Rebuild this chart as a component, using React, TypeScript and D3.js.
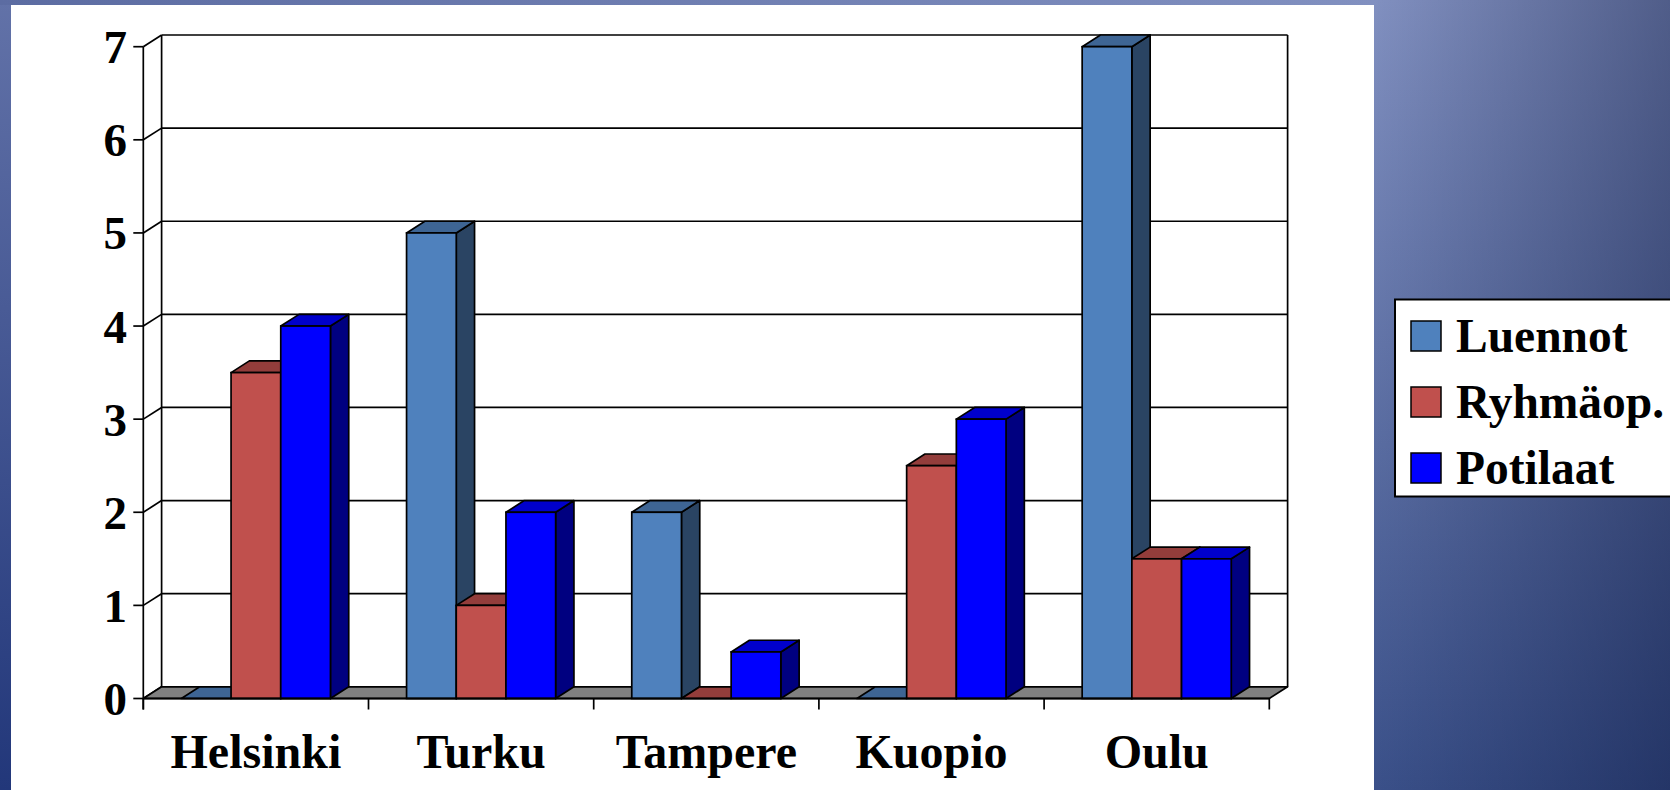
import React from "react";
import * as d3 from "d3";

const categories = ["Helsinki", "Turku", "Tampere", "Kuopio", "Oulu"];
const seriesNames = ["Luennot", "Ryhmäop.", "Potilaat"];
const luennot = [0, 5, 2, 0, 7];
const ryhmaop = [3.5, 1, 0, 2.5, 1.5];
const potilaat = [4, 2, 0.5, 3, 1.5];
const yTicks = [0, 1, 2, 3, 4, 5, 6, 7];

const seriesValues = [luennot, ryhmaop, potilaat];
const frontColors = ["#4f81bd", "#c0504d", "#0000ff"];
const topColors = ["#3e6594", "#933d3b", "#0000cc"];
const sideColors = ["#2a4463", "#7a2f2d", "#000080"];

const W = 1670;
const H = 790;
const X0 = 143.3;
const X1 = 1269.3;
const Y0 = 698.5;
const Y7 = 46.7;
const DX = 18.3;
const DY = -11.7;
const FONT = "'Times New Roman', 'Liberation Serif', serif";

export default function App() {
  React.useEffect(() => {
    document.body.style.margin = "0";
  }, []);

  const x0 = d3.scaleBand<string>().domain(categories).range([X0, X1]).paddingInner(0).paddingOuter(0);
  const x1 = d3
    .scaleBand<string>()
    .domain(seriesNames)
    .range([0, x0.bandwidth()])
    .paddingInner(0)
    .paddingOuter(0.766);
  const y = d3.scaleLinear().domain([0, 7]).range([Y0, Y7]);

  const sw = 1.7;
  const pts = (a: number[][]) => a.map((p) => p.join(",")).join(" ");

  const bars: React.ReactNode[] = [];
  categories.forEach((c, ci) => {
    seriesNames.forEach((s, si) => {
      const v = seriesValues[si][ci];
      const xl = (x0(c) as number) + (x1(s) as number);
      const xr = xl + x1.bandwidth();
      const yt = y(v);
      const yb = y(0);
      bars.push(
        <g key={c + s}>
          {v > 0 && (
            <polygon
              points={pts([[xr, yt], [xr + DX, yt + DY], [xr + DX, yb + DY], [xr, yb]])}
              fill={sideColors[si]}
              stroke="#000"
              strokeWidth={sw}
              strokeLinejoin="round"
            />
          )}
          <polygon
            points={pts([[xl, yt], [xl + DX, yt + DY], [xr + DX, yt + DY], [xr, yt]])}
            fill={topColors[si]}
            stroke="#000"
            strokeWidth={sw}
            strokeLinejoin="round"
          />
          {v > 0 && (
            <rect x={xl} y={yt} width={xr - xl} height={yb - yt} fill={frontColors[si]} stroke="#000" strokeWidth={sw} />
          )}
        </g>
      );
    });
  });

  return (
    <svg width={W} height={H} style={{ position: "absolute", left: 0, top: 0, display: "block" }}>
      <defs>
        <linearGradient id="bgV" x1="0" y1="0" x2="0" y2="1">
          <stop offset="0" stopColor="#6272a8" />
          <stop offset="1" stopColor="#22377a" />
        </linearGradient>
        <linearGradient id="rV" x1="0" y1="0" x2="0" y2="1">
          <stop offset="0" stopColor="#8190c0" />
          <stop offset="1" stopColor="#3a5089" />
        </linearGradient>
        <linearGradient id="rH" x1="0" y1="0" x2="1" y2="0">
          <stop offset="0" stopColor="#000a30" stopOpacity="0" />
          <stop offset="1" stopColor="#000a30" stopOpacity="0.38" />
        </linearGradient>
        <linearGradient id="topH" x1="0" y1="0" x2="1" y2="0">
          <stop offset="0" stopColor="#5c6ca2" />
          <stop offset="1" stopColor="#8190c0" />
        </linearGradient>
      </defs>
      <rect x={0} y={0} width={W} height={H} fill="url(#bgV)" />
      <rect x={0} y={0} width={1374} height={5} fill="url(#topH)" />
      <rect x={1374} y={0} width={W - 1374} height={H} fill="url(#rV)" />
      <rect x={1374} y={0} width={W - 1374} height={H} fill="url(#rH)" />
      <rect x={11} y={5} width={1363} height={H - 5} fill="#ffffff" />

      {/* back wall gridlines and left wall */}
      {yTicks.map((t) => (
        <g key={"g" + t}>
          <line x1={X0 + DX} x2={X1 + DX} y1={y(t) + DY} y2={y(t) + DY} stroke="#000" strokeWidth={sw} />
          <line x1={X0} x2={X0 + DX} y1={y(t)} y2={y(t) + DY} stroke="#000" strokeWidth={sw} />
          <line x1={X0 - 10} x2={X0} y1={y(t)} y2={y(t)} stroke="#000" strokeWidth={sw} />
          <text
            x={127}
            y={y(t) + 16.5}
            textAnchor="end"
            fontFamily={FONT}
            fontWeight="bold"
            fontSize={47}
            fill="#000"
          >
            {t}
          </text>
        </g>
      ))}
      <line x1={X0 + DX} x2={X0 + DX} y1={y(7) + DY} y2={y(0) + DY} stroke="#000" strokeWidth={sw} />
      <line x1={X1 + DX} x2={X1 + DX} y1={y(7) + DY} y2={y(0) + DY} stroke="#000" strokeWidth={sw} />
      <line x1={X0} x2={X0} y1={y(7)} y2={y(0) + 11} stroke="#000" strokeWidth={sw} />

      {/* floor */}
      <polygon
        points={pts([[X0, Y0], [X0 + DX, Y0 + DY], [X1 + DX, Y0 + DY], [X1, Y0]])}
        fill="#808080"
        stroke="#000"
        strokeWidth={sw}
        strokeLinejoin="round"
      />

      {bars}

      {/* front axis line & category ticks */}
      <line x1={X0} x2={X1} y1={Y0} y2={Y0} stroke="#000" strokeWidth={sw + 0.3} />
      {categories.map((c) => (
        <line key={"t" + c} x1={x0(c) as number} x2={x0(c) as number} y1={Y0} y2={Y0 + 11} stroke="#000" strokeWidth={sw} />
      ))}
      <line x1={X1} x2={X1} y1={Y0} y2={Y0 + 11} stroke="#000" strokeWidth={sw} />
      {categories.map((c) => (
        <text
          key={"l" + c}
          x={(x0(c) as number) + x0.bandwidth() / 2}
          y={768}
          textAnchor="middle"
          fontFamily={FONT}
          fontWeight="bold"
          fontSize={48}
          fill="#000"
        >
          {c}
        </text>
      ))}

      {/* legend */}
      <rect x={1395} y={299.5} width={300} height={197} fill="#ffffff" stroke="#000" strokeWidth={2} />
      {seriesNames.map((s, i) => (
        <g key={"lg" + s}>
          <rect x={1411} y={321 + i * 66} width={30} height={30} fill={frontColors[i]} stroke="#000" strokeWidth={1.5} />
          <text x={1456} y={352 + i * 66} fontFamily={FONT} fontWeight="bold" fontSize={47.5} fill="#000">
            {s}
          </text>
        </g>
      ))}
    </svg>
  );
}
